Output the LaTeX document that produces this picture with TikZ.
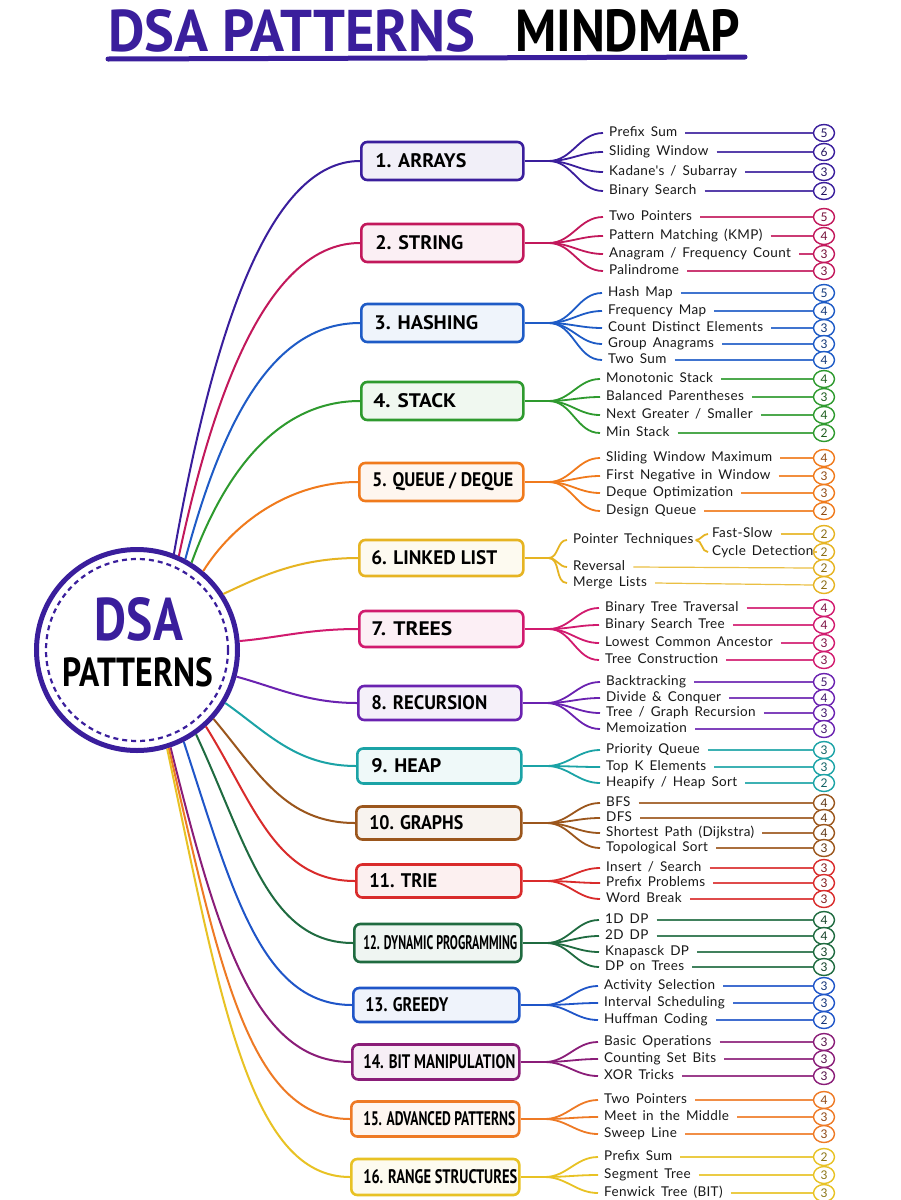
\documentclass[tikz,border=0pt]{standalone}
\usepackage{fontspec}
\usepackage{graphicx}
\usetikzlibrary{shapes.geometric}
\setmainfont{Lato}
\newfontfamily\leaffont[LetterSpace=2.5,WordSpace=1.6]{Lato}
\newfontfamily\boxfont{PT Sans}
\definecolor{c1}{HTML}{3A1E9C}
\definecolor{c2}{HTML}{C2185B}
\definecolor{c3}{HTML}{1E5BC6}
\definecolor{c4}{HTML}{2E9A2E}
\definecolor{c5}{HTML}{F07A1C}
\definecolor{c6}{HTML}{E6B422}
\definecolor{c7}{HTML}{D11A6E}
\definecolor{c8}{HTML}{6A22B0}
\definecolor{c9}{HTML}{1BA3A6}
\definecolor{c10}{HTML}{9B561C}
\definecolor{c11}{HTML}{D92B2B}
\definecolor{c12}{HTML}{1F6B40}
\definecolor{c13}{HTML}{1F55C8}
\definecolor{c14}{HTML}{8A1D78}
\definecolor{c15}{HTML}{EE7A25}
\definecolor{c16}{HTML}{E8C224}
\tikzset{
  catbox/.style={draw=#1, fill=#1!7, line width=2.6pt, rounded corners=6pt,
    inner xsep=0pt, inner ysep=0pt, anchor=west, text=black},
  mainline/.style={draw=#1, line width=2pt},
  fanline/.style={draw=#1, line width=1.8pt},
  leafline/.style={draw=#1!85, line width=1.2pt},
  leaf/.style={font=\leaffont\fontsize{13.5}{14}\selectfont, text=black!90,
    inner xsep=0pt, inner ysep=1pt, text height=9pt, text depth=3pt, anchor=west},
  num/.style={ellipse, draw=#1, line width=1.4pt, fill=white, inner sep=0pt,
    minimum width=21pt, minimum height=17pt,
    font=\leaffont\fontsize{12}{12}\selectfont, text=#1!60!black},
}
\newcommand\branch[3]{%
  \coordinate (s#1) at ([xshift=24pt]b#1.east);
  \draw[fanline=c#1] (b#1.east) -- (s#1);
  \foreach \lY/\lT/\lN [count=\k] in {#3} {
    \node[leaf] (l#1-\k) at (#2,\lY) {\lT};
    \node[num=c#1] (n#1-\k) at (824,\lY) {\lN};
    \draw[fanline=c#1] (s#1) to[out=0,in=180] ([xshift=-6pt]l#1-\k.west);
    \draw[leafline=c#1] ([xshift=8pt]l#1-\k.east) -- (n#1-\k.west);
  }%
}
\begin{document}
\begin{tikzpicture}[x=1pt,y=-1pt]
\useasboundingbox[fill=white] (0,0) rectangle (901,1200);
% title
\node[anchor=base west, inner sep=0pt, text=c1] (t1) at (108,51)
  {\resizebox{367pt}{42pt}{\boxfont\bfseries DSA PATTERNS}};
\node[anchor=base west, inner sep=0pt, text=black] (t2) at (515,51)
  {\resizebox{225pt}{42pt}{\boxfont\bfseries MINDMAP}};
\draw[c1, line width=5pt, line cap=round] (108,59) -- (745,57);
% hub
\node[circle, draw=c1, line width=5pt, minimum size=201pt, fill=white, inner sep=0pt] (hub) at (137,650) {};
\draw[c1, line width=2.2pt, dash pattern=on 5pt off 4pt] (hub.center) circle[radius=91pt];
\node[text=c1, inner sep=0pt] (hd) at (139,619) {\resizebox{88pt}{43pt}{\boxfont\bfseries DSA}};
\node[text=black, inner sep=0pt] (hp) at (138,672) {\resizebox{150pt}{29pt}{\boxfont\bfseries PATTERNS}};
% categories
\foreach \i/\y/\xl/\xr/\h/\xt/\tw/\lab/\a/\o/\od/\id in {
  1/161/360/522/38/374/91/{1. ARRAYS}/69/80/230/90,
  2/243/360/522/38/374/88/{2. STRING}/66/78/190/85,
  3/323/360/522/38/373/104/{3. HASHING}/62/75/150/85,
  4/401/360/522/38/372/83/{4. STACK}/58/70/100/80,
  5/482/358/522/38/371/141/{5. QUEUE / DEQUE}/50/58/55/70,
  6/558/358/522/36/370/126/{6. LINKED LIST}/33/25/40/60,
  7/629/358/522/36/370/81/{7. TREES}/5/5/40/50,
  8/703/357/520/34/370/116/{8. RECURSION}/-15/-15/40/50,
  9/766/356/520/35/370/70/{9. HEAP}/-31/-35/50/60,
  10/823/355/520/33/368/94/{10. GRAPHS}/-42/-50/70/70,
  11/881/355/520/33/368/68/{11. TRIE}/-48/-58/90/80,
  12/943/353/520/38/362/154/{12. DYNAMIC PROGRAMMING}/-55/-65/120/85,
  13/1005/352/518/34/364/83/{13. GREEDY}/-63/-72/160/90,
  14/1062/351/518/35/362/152/{14. BIT MANIPULATION}/-71/-76/200/95,
  15/1119/350/518/35/362/152/{15. ADVANCED PATTERNS}/-72/-77/230/100,
  16/1177/350/518/36/362/154/{16. RANGE STRUCTURES}/-73/-78/260/100} {
  \node[catbox=c\i, minimum height=\h pt] (b\i) at (\xl,\y)
    {\makebox[\dimexpr\xr pt-\xl pt\relax][l]{\hspace{\dimexpr\xt pt-\xl pt\relax}\resizebox{\tw pt}{14pt}{\boxfont\bfseries \lab}}};
  \draw[mainline=c\i] (hub.\a) to[out=\o, in=180, out distance=\od pt, in distance=\id pt] (b\i.west);
}
% leaves
\branch{1}{609}{133/Prefix Sum/5, 152/Sliding Window/6, 172/{Kadane's / Subarray}/3, 191/Binary Search/2}
\branch{2}{609}{217/Two Pointers/5, 236/{Pattern Matching (KMP)}/4, 254/{Anagram / Frequency Count}/3, 271/Palindrome/3}
\branch{3}{608}{293/Hash Map/5, 311/Frequency Map/4, 328/Count Distinct Elements/3, 344/Group Anagrams/3, 360/Two Sum/4}
\branch{4}{606}{379/Monotonic Stack/4, 397/Balanced Parentheses/3, 415/{Next Greater / Smaller}/4, 433/Min Stack/2}
\branch{5}{606}{458/Sliding Window Maximum/4, 476/First Negative in Window/3, 493/Deque Optimization/3, 511/Design Queue/2}
\branch{7}{605}{608/Binary Tree Traversal/4, 625/Binary Search Tree/4, 643/Lowest Common Ancestor/3, 660/Tree Construction/3}
\branch{8}{606}{682/Backtracking/5, 698/{Divide \& Conquer}/4, 713/{Tree / Graph Recursion}/3, 729/Memoization/3}
\branch{9}{606}{750/Priority Queue/3, 767/Top K Elements/3, 783/{Heapify / Heap Sort}/2}
\branch{10}{606}{803/BFS/4, 818/DFS/4, 833/{Shortest Path (Dijkstra)}/4, 848/Topological Sort/3}
\branch{11}{606}{868/{Insert / Search}/3, 883/Prefix Problems/3, 899/Word Break/3}
\branch{12}{605}{920/1D DP/4, 936/2D DP/4, 952/Knapasck DP/3, 967/DP on Trees/3}
\branch{13}{604}{986/Activity Selection/3, 1003/Interval Scheduling/3, 1020/Huffman Coding/2}
\branch{14}{604}{1042/Basic Operations/3, 1059/Counting Set Bits/3, 1076/XOR Tricks/3}
\branch{15}{604}{1100/Two Pointers/4, 1117/Meet in the Middle/3, 1134/Sweep Line/3}
\branch{16}{604}{1157/Prefix Sum/2, 1175/Segment Tree/3, 1193/{Fenwick Tree (BIT)}/3}
% linked list
\coordinate (s6) at ([xshift=24pt]b6.east);
\draw[fanline=c6] (b6.east) -- (s6);
\node[leaf] (pt) at (573,540) {Pointer Techniques};
\node[leaf] (rv) at (573,567) {Reversal};
\node[leaf] (ml) at (573,583) {Merge Lists};
\node[leaf] (fs) at (712,534) {Fast-Slow};
\node[leaf] (cd) at (712,552) {Cycle Detection};
\node[num=c6] (n6-1) at (824,534) {2};
\node[num=c6] (n6-2) at (824,552) {2};
\node[num=c6] (n6-3) at (824,568) {2};
\node[num=c6] (n6-4) at (824,585) {2};
\coordinate (s6b) at ([xshift=2pt]pt.east);
\foreach \t in {pt,rv,ml} \draw[fanline=c6] (s6) to[out=0,in=180] ([xshift=-6pt]\t.west);
\foreach \t in {fs,cd} \draw[fanline=c6] (s6b) to[out=0,in=180] ([xshift=-4pt]\t.west);
\draw[leafline=c6] ([xshift=8pt]fs.east) -- (n6-1.west);
\draw[leafline=c6] ([xshift=3pt]cd.east) -- (n6-2.west);
\draw[leafline=c6] ([xshift=8pt]rv.east) -- (n6-3.west);
\draw[leafline=c6] ([xshift=8pt]ml.east) -- (n6-4.west);
\end{tikzpicture}
\end{document}
